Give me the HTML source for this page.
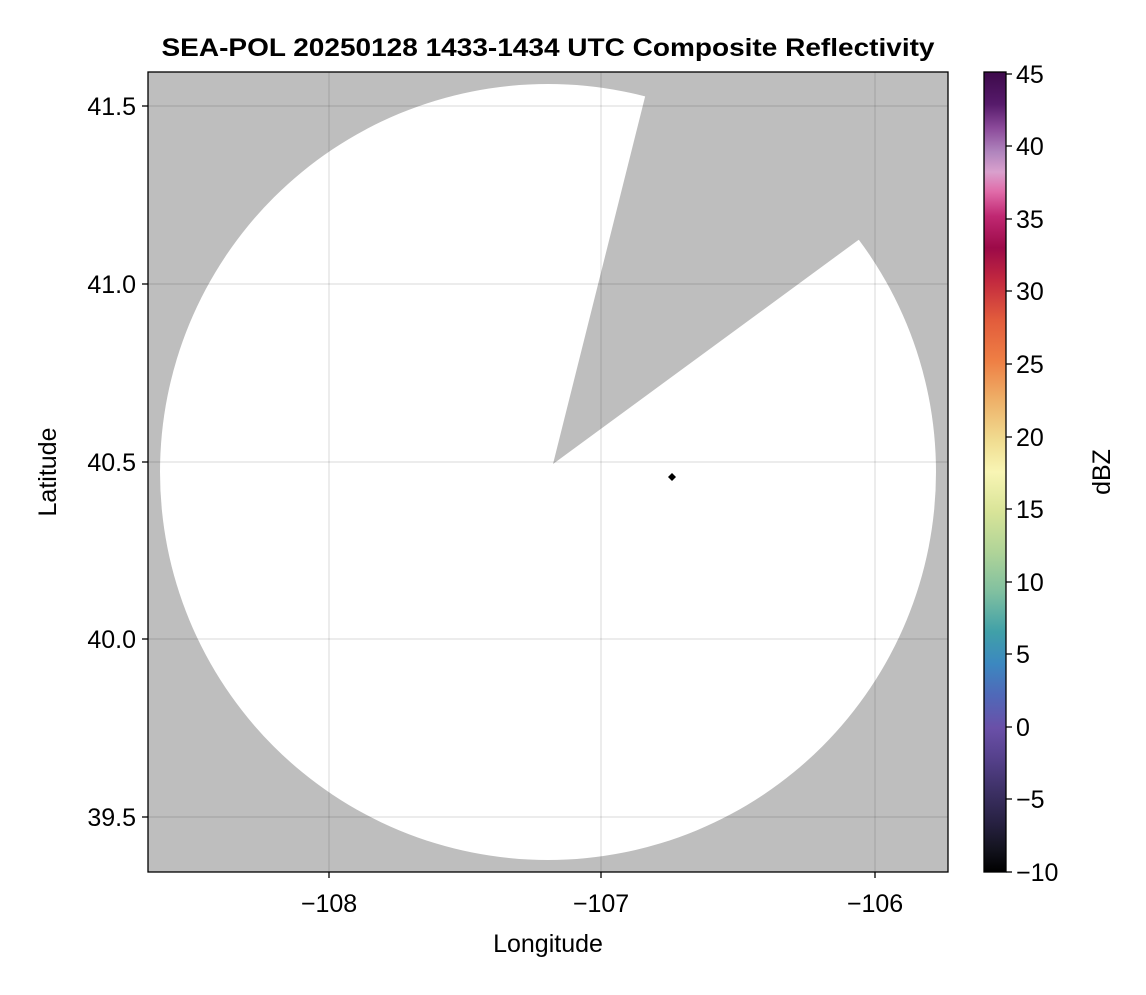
<!DOCTYPE html>
<html><head><style>
body{margin:0;background:#fff;}
svg text{font-family:"Liberation Sans",Arial,sans-serif;}
</style></head><body>
<svg width="1146" height="990" xmlns="http://www.w3.org/2000/svg">
<defs>
<clipPath id="pc"><rect x="148" y="72" width="800" height="800"/></clipPath>
<linearGradient id="cb" x1="0" y1="0" x2="0" y2="1">
<stop offset="0" stop-color="#3d0a4a"/><stop offset="0.04" stop-color="#561a6a"/><stop offset="0.07" stop-color="#8b4a9a"/><stop offset="0.1" stop-color="#b085bd"/><stop offset="0.125" stop-color="#d9a0cd"/><stop offset="0.15" stop-color="#e06aa8"/><stop offset="0.18" stop-color="#c02872"/><stop offset="0.22" stop-color="#9c0a48"/><stop offset="0.26" stop-color="#c2283f"/><stop offset="0.31" stop-color="#e25c3c"/><stop offset="0.36" stop-color="#ee7e44"/><stop offset="0.41" stop-color="#eeb068"/><stop offset="0.46" stop-color="#f0dc90"/><stop offset="0.5" stop-color="#f8f5b4"/><stop offset="0.55" stop-color="#d8e498"/><stop offset="0.6" stop-color="#b0d498"/><stop offset="0.65" stop-color="#80c0a0"/><stop offset="0.7" stop-color="#40a0a8"/><stop offset="0.74" stop-color="#3c88c0"/><stop offset="0.78" stop-color="#5068b8"/><stop offset="0.82" stop-color="#6a50a8"/><stop offset="0.86" stop-color="#54408a"/><stop offset="0.9" stop-color="#3c3064"/><stop offset="0.94" stop-color="#262040"/><stop offset="0.97" stop-color="#141420"/><stop offset="1" stop-color="#000"/>
</linearGradient>
</defs>
<text x="548" y="56" font-size="25" font-weight="bold" text-anchor="middle" textLength="773" lengthAdjust="spacingAndGlyphs">SEA-POL 20250128 1433-1434 UTC Composite Reflectivity</text>
<g clip-path="url(#pc)">
<rect x="148" y="72" width="800" height="800" fill="#bebebe"/>
<ellipse cx="548" cy="472" rx="388" ry="388" fill="#fff"/>
<polygon points="553,464 645,97 652,72 948,72 948,180 857,241" fill="#bebebe"/>
<g stroke="#000" stroke-opacity="0.12" stroke-width="1.2">
<line x1="329" y1="72" x2="329" y2="872"/><line x1="601" y1="72" x2="601" y2="872"/><line x1="875" y1="72" x2="875" y2="872"/>
<line x1="148" y1="106" x2="948" y2="106"/><line x1="148" y1="284" x2="948" y2="284"/><line x1="148" y1="462" x2="948" y2="462"/><line x1="148" y1="639" x2="948" y2="639"/><line x1="148" y1="817" x2="948" y2="817"/>
</g>
<polygon points="672,473 676,477 672,481 668,477" fill="#000"/>
</g>
<rect x="148" y="72" width="800" height="800" fill="none" stroke="#000" stroke-width="1.3"/>
<g stroke="#000" stroke-width="1.3">
<line x1="329" y1="872" x2="329" y2="878"/><line x1="601" y1="872" x2="601" y2="878"/><line x1="875" y1="872" x2="875" y2="878"/>
<line x1="142" y1="106" x2="148" y2="106"/><line x1="142" y1="284" x2="148" y2="284"/><line x1="142" y1="462" x2="148" y2="462"/><line x1="142" y1="639" x2="148" y2="639"/><line x1="142" y1="817" x2="148" y2="817"/>
</g>
<g font-size="25" text-anchor="middle">
<text x="329" y="912">−108</text><text x="601" y="912">−107</text><text x="875" y="912">−106</text>
<text x="548" y="952">Longitude</text>
</g>
<g font-size="25" text-anchor="end">
<text x="136" y="115">41.5</text><text x="136" y="293">41.0</text><text x="136" y="471">40.5</text><text x="136" y="648">40.0</text><text x="136" y="826">39.5</text>
</g>
<text transform="translate(56,472) rotate(-90)" font-size="25" text-anchor="middle">Latitude</text>
<rect x="984" y="72" width="22" height="800" fill="url(#cb)" stroke="#000" stroke-width="1.3"/>
<g stroke="#000" stroke-width="1.3">
<line x1="1006" y1="74" x2="1012" y2="74"/><line x1="1006" y1="146" x2="1012" y2="146"/><line x1="1006" y1="219" x2="1012" y2="219"/><line x1="1006" y1="291" x2="1012" y2="291"/><line x1="1006" y1="364" x2="1012" y2="364"/><line x1="1006" y1="437" x2="1012" y2="437"/><line x1="1006" y1="509" x2="1012" y2="509"/><line x1="1006" y1="582" x2="1012" y2="582"/><line x1="1006" y1="654" x2="1012" y2="654"/><line x1="1006" y1="727" x2="1012" y2="727"/><line x1="1006" y1="799" x2="1012" y2="799"/><line x1="1006" y1="872" x2="1012" y2="872"/>
</g>
<g font-size="25">
<text x="1016" y="83">45</text><text x="1016" y="155">40</text><text x="1016" y="228">35</text><text x="1016" y="300">30</text><text x="1016" y="373">25</text><text x="1016" y="446">20</text><text x="1016" y="518">15</text><text x="1016" y="591">10</text><text x="1016" y="663">5</text><text x="1016" y="736">0</text><text x="1016" y="808">−5</text><text x="1016" y="881">−10</text>
</g>
<text transform="translate(1110,472) rotate(-90)" font-size="25" text-anchor="middle">dBZ</text>
</svg>
</body></html>
